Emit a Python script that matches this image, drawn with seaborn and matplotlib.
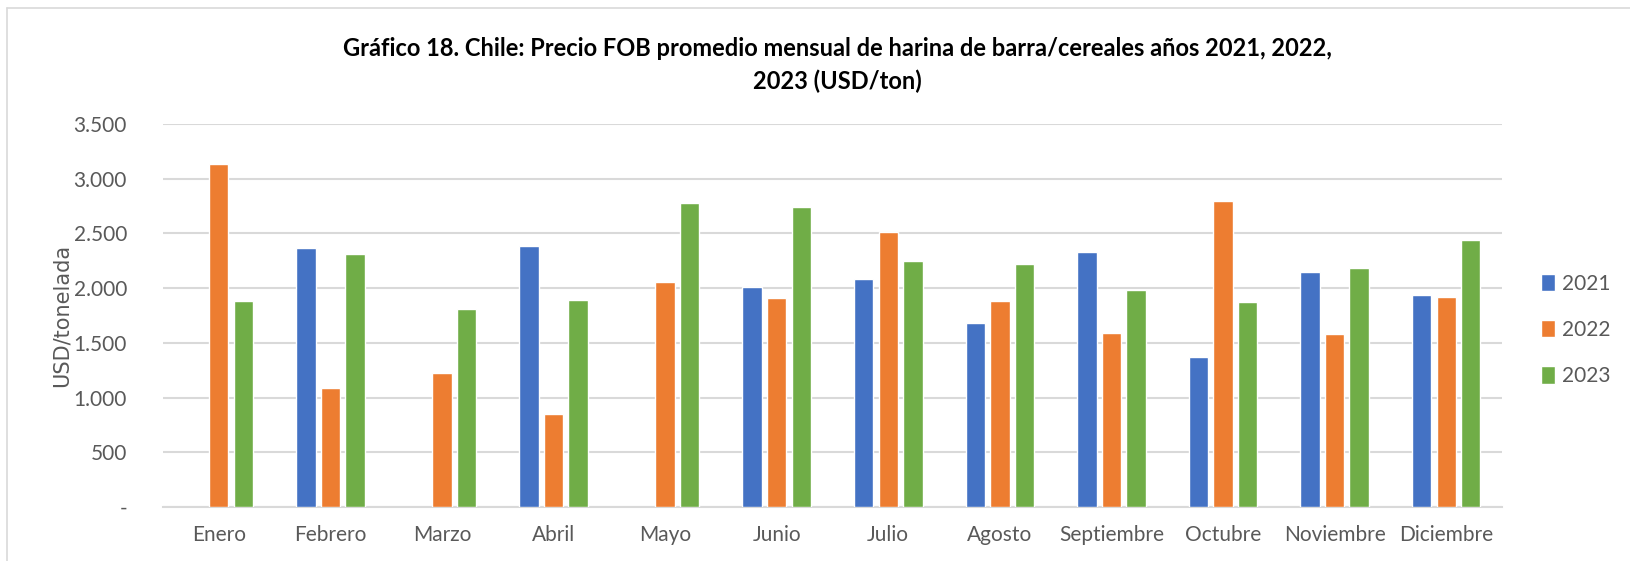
import numpy as np
import pandas as pd
import matplotlib
matplotlib.use("Agg")
import matplotlib.pyplot as plt
import seaborn as sns
from matplotlib.lines import Line2D
from matplotlib.ticker import FixedLocator

# meses y precios FOB (USD/ton)
meses = ["Enero", "Febrero", "Marzo", "Abril", "Mayo", "Junio", "Julio",
         "Agosto", "Septiembre", "Octubre", "Noviembre", "Diciembre"]
anios = ["2021", "2022", "2023"]
p2021 = [None, 2369, None, 2381, None, 2006, 2088, 1686, 2329, 1375, 2146, 1933]
p2022 = [3131, 1091, 1226, 848, 2055, 1909, 2512, 1887, 1588, 2799, 1582, 1918]
p2023 = [1881, 2311, 1811, 1896, 2774, 2744, 2244, 2220, 1979, 1872, 2183, 2436]
yticks = [0, 500, 1000, 1500, 2000, 2500, 3000, 3500]
ytick_labels = ["-", "500", "1.000", "1.500", "2.000", "2.500", "3.000", "3.500"]

colores = ["#4472C4", "#ED7D31", "#70AD47"]
titulo = ("Gráfico 18. Chile: Precio FOB promedio mensual de harina de barra/cereales años 2021, 2022,\n"
          "2023 (USD/ton)")

df = pd.DataFrame({"mes": meses, "2021": p2021, "2022": p2022, "2023": p2023})
df = df.melt(id_vars="mes", var_name="anio", value_name="precio").dropna()

sns.set_theme(style="white")
plt.rcParams["font.family"] = ["Lato", "DejaVu Sans"]

fig = plt.figure(figsize=(16.31, 5.61), dpi=100)
ax = fig.add_axes([163 / 1631, 1 - 507 / 561, (1502 - 163) / 1631, (507 - 124) / 561])

sns.barplot(data=df, x="mes", y="precio", hue="anio", order=meses, hue_order=anios,
            palette=colores, width=0.66, gap=0.21, errorbar=None, ax=ax,
            saturation=1, zorder=3)

ax.set_ylim(0, 3500)
ax.set_xlim(-0.5, 11.5)
ax.yaxis.set_major_locator(FixedLocator(yticks))
ax.set_yticklabels(ytick_labels)
ax.grid(axis="y", color="#D9D9D9", linewidth=1.5, zorder=0)
ax.set_axisbelow(True)
for s in ["top", "right", "left"]:
    ax.spines[s].set_visible(False)
ax.spines["bottom"].set_color("#D9D9D9")
ax.spines["bottom"].set_linewidth(1.5)
ax.tick_params(axis="both", length=0, labelcolor="#595959", labelsize=15)
ax.tick_params(axis="x", pad=13)
ax.tick_params(axis="y", pad=26)
ax.set_xlabel("")
ax.set_ylabel("USD/tonelada", fontsize=15, color="#595959", family="DejaVu Sans", labelpad=1)

leg = ax.legend(loc="center left", bbox_to_anchor=(1522 / 1631, 1 - 330 / 561),
                bbox_transform=fig.transFigure, frameon=False, fontsize=15,
                handlelength=0.7, handleheight=0.9, handletextpad=0.3, labelspacing=1.25)
for t in leg.get_texts():
    t.set_color("#595959")

fig.text(837 / 1631, 1 - 65 / 561, titulo, ha="center", va="center", fontsize=17,
         fontweight="bold", color="black", linespacing=1.5)

# borde del area del grafico
fig.add_artist(Line2D([7 / 1631, 1], [1 - 8 / 561, 1 - 8 / 561], transform=fig.transFigure,
                      color="#D9D9D9", linewidth=1.2))
fig.add_artist(Line2D([7 / 1631, 7 / 1631], [0, 1 - 8 / 561], transform=fig.transFigure,
                      color="#D9D9D9", linewidth=1.2))

fig.savefig("out.png", dpi=100)
